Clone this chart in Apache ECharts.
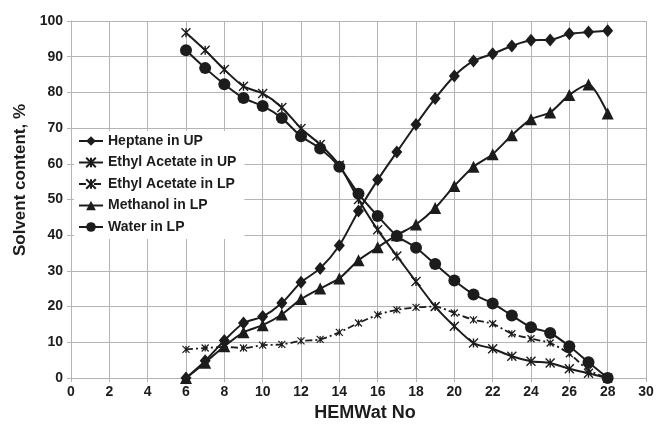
<!DOCTYPE html>
<html>
<head>
<meta charset="utf-8">
<script src="https://cdn.jsdelivr.net/npm/echarts@6/dist/echarts.min.js"></script>
<style>
  html, body { margin: 0; padding: 0; background: #fff; }
  #chart { width: 657px; height: 433px; }
</style>
</head>
<body>
<div id="chart"></div>
<script>
// HEMWat system number (x) and solvent content in each phase, %
var hemwatNo = [6, 7, 8, 9, 10, 11, 12, 13, 14, 15, 16, 17, 18, 19, 20, 21, 22, 23, 24, 25, 26, 27, 28];
var heptaneUP = [0, 4.8, 10.5, 15.4, 17.2, 21, 26.8, 30.7, 37.1, 46.8, 55.5, 63.3, 71, 78.3, 84.6, 88.8, 90.8, 93, 94.6, 94.7, 96.4, 96.9, 97.3];
var ethylAcetateUP = [96.7, 91.8, 86.4, 81.7, 79.7, 75.8, 69.9, 65.4, 59.6, 50, 41.5, 34.2, 27, 20, 14.5, 9.8, 8.2, 6.1, 4.7, 4.2, 2.6, 1.3, 0];
var ethylAcetateLP = [8.0, 8.4, 8.7, 8.4, 9.2, 9.4, 10.4, 10.8, 12.8, 15.4, 17.7, 19.1, 19.8, 20, 18.2, 16.3, 15.2, 12.4, 11, 9.8, 6.8, 2.2, 0];
var methanolLP = [0, 4.3, 8.9, 12.8, 14.8, 17.8, 22.1, 25.1, 27.9, 33, 36.6, 40, 43, 47.6, 53.8, 59.2, 62.7, 68, 72.5, 74.4, 79.3, 82.2, 74.1];
var waterLP = [91.8, 86.8, 82.3, 78.4, 76.2, 72.8, 67.7, 64.3, 59.2, 51.6, 45.4, 39.8, 36.5, 31.9, 27.3, 23.4, 20.9, 17.5, 14.2, 12.6, 8.9, 4.4, 0];

var seriesNames = ['Heptane in UP', 'Ethyl Acetate in UP', 'Ethyl Acetate in LP', 'Methanol in LP', 'Water in LP'];

var ink = '#1c1c1c';
var gridGrey = '#b4b4b4';
var fontFam = '"Liberation Sans", Arial, sans-serif';
var asterisk = 'path://M0,0L10,10M10,0L0,10M5,0L5,10';

function pairs(ys) {
  return hemwatNo.map(function (x, i) { return [x, ys[i]]; });
}

function solidSeries(name, ys, symbol, size) {
  return {
    name: name,
    type: 'line',
    data: pairs(ys),
    smooth: 0.25,
    symbol: symbol,
    symbolSize: size,
    lineStyle: { color: ink, width: 2 },
    itemStyle: { color: ink, borderColor: ink, borderWidth: 0 },
    emphasis: { disabled: true }
  };
}

var chart = echarts.init(document.getElementById('chart'), null, { renderer: 'canvas' });

chart.setOption({
  animation: false,
  backgroundColor: '#fff',
  grid: { left: 71, right: 11, top: 21, bottom: 55 },
  legend: {
    orient: 'vertical',
    left: 74,
    top: 131,
    data: seriesNames,
    backgroundColor: '#fff',
    padding: [3, 8, 5, 4],
    itemWidth: 24,
    itemHeight: 12,
    itemGap: 7.5,
    textStyle: { fontFamily: fontFam, fontWeight: 'bold', fontSize: 14, color: ink }
  },
  xAxis: {
    type: 'value',
    min: 0,
    max: 30,
    interval: 2,
    name: 'HEMWat No',
    nameLocation: 'middle',
    nameGap: 24,
    nameTextStyle: { fontFamily: fontFam, fontWeight: 'bold', fontSize: 18, color: ink, padding: [0, 0, 0, 13] },
    axisLine: { show: true, lineStyle: { color: gridGrey, width: 1 } },
    axisTick: { show: true, length: 4, lineStyle: { color: gridGrey } },
    axisLabel: { fontFamily: fontFam, fontWeight: 'bold', fontSize: 14, color: ink, margin: 7 },
    splitLine: { show: true, lineStyle: { color: gridGrey, width: 1 } }
  },
  yAxis: {
    type: 'value',
    min: 0,
    max: 100,
    interval: 10,
    name: 'Solvent content, %',
    nameLocation: 'middle',
    nameGap: 39,
    nameTextStyle: { fontFamily: fontFam, fontWeight: 'bold', fontSize: 17, color: ink, padding: [0, 0, 0, 39] },
    axisLine: { show: true, lineStyle: { color: gridGrey, width: 1 } },
    axisTick: { show: true, length: 4, lineStyle: { color: gridGrey } },
    axisLabel: { fontFamily: fontFam, fontWeight: 'bold', fontSize: 14, color: ink, margin: 8 },
    splitLine: { show: true, lineStyle: { color: gridGrey, width: 1 } }
  },
  series: [
    solidSeries(seriesNames[0], heptaneUP, 'diamond', [11, 13]),
    {
      name: seriesNames[1],
      type: 'line',
      data: pairs(ethylAcetateUP),
      smooth: 0.25,
      symbol: asterisk,
      symbolSize: 9,
      lineStyle: { color: ink, width: 2 },
      itemStyle: { color: 'rgba(0,0,0,0)', borderColor: ink, borderWidth: 1.4 },
      emphasis: { disabled: true }
    },
    {
      name: seriesNames[2],
      type: 'line',
      data: pairs(ethylAcetateLP),
      smooth: 0.25,
      symbol: asterisk,
      symbolSize: 7,
      lineStyle: { color: ink, width: 1.8, type: [7, 3, 2, 3] },
      itemStyle: { color: 'rgba(0,0,0,0)', borderColor: ink, borderWidth: 1.2 },
      emphasis: { disabled: true }
    },
    solidSeries(seriesNames[3], methanolLP, 'triangle', 12),
    solidSeries(seriesNames[4], waterLP, 'circle', 12)
  ]
});
</script>
</body>
</html>
